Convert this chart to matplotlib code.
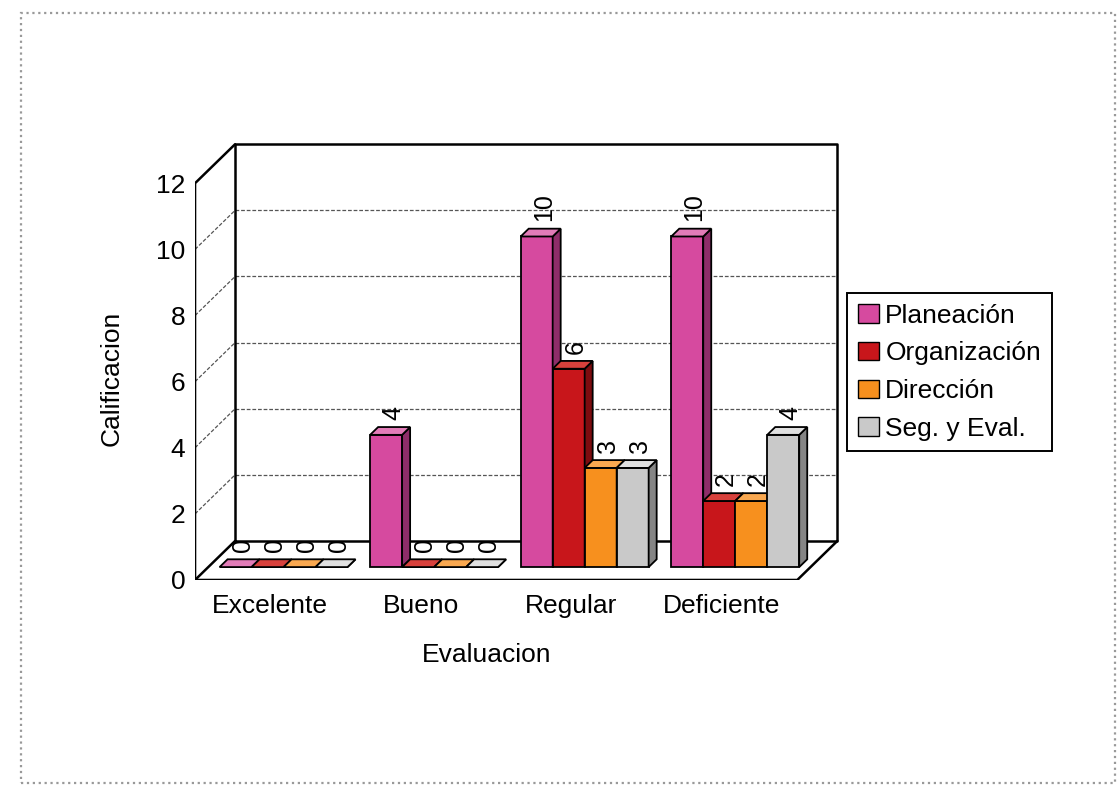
import numpy as np
import matplotlib.pyplot as plt
from matplotlib.patches import Polygon, Patch, Rectangle

plt.rcParams['font.family'] = ['Liberation Sans', 'DejaVu Sans']

# datos
categorias = ['Excelente', 'Bueno', 'Regular', 'Deficiente']
series = ['Planeación', 'Organización', 'Dirección', 'Seg. y Eval.']
planeacion = [0, 4, 10, 10]
organizacion = [0, 0, 6, 2]
direccion = [0, 0, 3, 2]
seg_eval = [0, 0, 3, 4]
yticks = [0, 2, 4, 6, 8, 10, 12]

valores = [planeacion, organizacion, direccion, seg_eval]
colores = ['#d64a9f', '#c8161b', '#f7901e', '#c9c9c9']
lados = ['#8e2d69', '#7c0c0f', '#a95b0f', '#858585']
topes = ['#e27cb8', '#d8413c', '#f9a850', '#e0e0e0']

# fake 3D: depth vector of the whole floor, bar position in depth
DX, DY = 0.266, 1.18
D0, DD = 0.33, 0.2
W = 0.2125
ymax = yticks[-1]
x0, x1 = -0.5, len(categorias) - 0.5

fig = plt.figure(figsize=(11.19, 7.88), dpi=100)
ax = fig.add_axes([0.1743, 0.264, 0.5853, 0.5622])
ax.set_xlim(-0.5, 3.85)
ax.set_ylim(0, 13.4)
for s in ax.spines.values():
    s.set_visible(False)

# outer dotted frame
fig.patches.append(Rectangle((0.019, 0.006), 0.977, 0.978, transform=fig.transFigure,
                             fill=False, edgecolor='#999999', linestyle=':', linewidth=1.6))

# gridlines on back wall and left wall
for v in yticks[1:-1]:
    ax.plot([x0 + DX, x1 + DX], [v + DY, v + DY], color='#555555', lw=0.9,
            dashes=(3, 1.5), zorder=1)
    ax.plot([x0, x0 + DX], [v, v + DY], color='#555555', lw=0.9,
            dashes=(3, 1.5), zorder=1)

k = dict(color='black', lw=1.8, zorder=2, solid_capstyle='round')
# back wall
ax.plot([x0 + DX, x1 + DX, x1 + DX, x0 + DX, x0 + DX],
        [DY, DY, ymax + DY, ymax + DY, DY], **k)
# left wall / axis
ax.plot([x0, x0, x0 + DX], [0, ymax, ymax + DY], **k)
ax.plot([x0, x0 + DX], [0, DY], **k)
# floor
ax.plot([x0, x1, x1 + DX], [0, 0, DY], **k)

# bars
for j, vals in enumerate(valores):
    z = 3 + j * 0.1
    xl = np.arange(len(categorias)) - 0.425 + j * W + D0 * DX
    yb = D0 * DY
    ax.bar(xl, vals, W, bottom=yb, align='edge', color=colores[j],
           edgecolor='black', linewidth=1.3, zorder=z)
    for i, v in enumerate(vals):
        xr = xl[i] + W
        yt = yb + v
        side = Polygon([(xr, yb), (xr + DD * DX, yb + DD * DY),
                        (xr + DD * DX, yt + DD * DY), (xr, yt)],
                       facecolor=lados[j], edgecolor='black', lw=1.3, zorder=z)
        top = Polygon([(xl[i], yt), (xr, yt), (xr + DD * DX, yt + DD * DY),
                       (xl[i] + DD * DX, yt + DD * DY)],
                      facecolor=topes[j], edgecolor='black', lw=1.3, zorder=z)
        ax.add_patch(side)
        ax.add_patch(top)
        ax.text(xl[i] + W / 2 + DD * DX / 2 + 0.02, yt + DD * DY + 0.22, str(v),
                rotation=90, ha='center', va='bottom', fontsize=18, zorder=6)

ax.set_yticks(yticks)
ax.set_xticks(range(len(categorias)))
ax.set_xticklabels(categorias)
ax.tick_params(axis='both', length=0, labelsize=19)
ax.tick_params(axis='y', pad=7)
ax.tick_params(axis='x', pad=10)

fig.text(112 / 1119, 1 - 378 / 788, 'Calificacion', rotation=90,
         ha='center', va='center', fontsize=19)
fig.text(487 / 1119, 1 - 655 / 788, 'Evaluacion', ha='center', va='center',
         fontsize=19)

handles = [Patch(facecolor=colores[j], edgecolor='black', label=series[j])
           for j in range(len(series))]
leg = fig.legend(handles=handles, loc='upper left', bbox_to_anchor=(0.757, 0.628),
                 borderaxespad=0, fontsize=19, handlelength=0.8, handleheight=0.7,
                 handletextpad=0.25, labelspacing=0.52, borderpad=0.4,
                 fancybox=False, framealpha=1, edgecolor='black')
leg.get_frame().set_linewidth(1.4)

plt.savefig('out.png', dpi=100)
